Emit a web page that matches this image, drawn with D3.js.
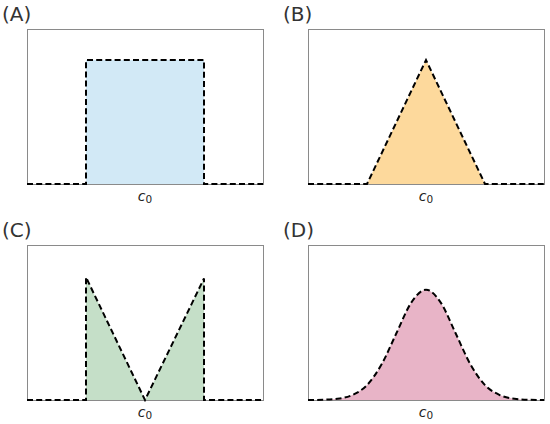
<!DOCTYPE html>
<html>
<head>
<meta charset="utf-8">
<script src="https://cdn.jsdelivr.net/npm/d3@7"></script>
<style>
  body { margin: 0; background: #fff; }
  svg { display: block; }
</style>
</head>
<body>
<div id="chart"></div>
<script>
// four kernel shapes around c0
const panelLabels = ["(A)", "(B)", "(C)", "(D)"];
const panelColors = ["#d2e9f6", "#fdd99c", "#c5dfc8", "#e8b4c7"];

const boxX = [-2, -1, -1, 1, 1, 2];
const boxY = [0, 0, 1, 1, 0, 0];

const triX = [-2, -1, 0, 1, 2];
const triY = [0, 0, 1, 0, 0];

const vX = [-2, -1, -1, 0, 1, 1, 2];
const vY = [0, 0, 0.99, 0, 0.98, 0, 0];

const gaussX = [-2, -1.75, -1.5, -1.25, -1, -0.75, -0.5, -0.25, 0, 0.25, 0.5, 0.75, 1, 1.25, 1.5, 1.75, 2];
const gaussY = [0, 0.002, 0.01, 0.04, 0.12, 0.29, 0.54, 0.785, 0.89, 0.785, 0.54, 0.29, 0.12, 0.04, 0.01, 0.002, 0];

const shapes = [
  { xs: boxX, ys: boxY, curve: d3.curveLinear },
  { xs: triX, ys: triY, curve: d3.curveLinear },
  { xs: vX, ys: vY, curve: d3.curveLinear },
  { xs: gaussX, ys: gaussY, curve: d3.curveMonotoneX },
];

const W = 550, H = 424;
const panelW = 236, panelH = 155;
const origins = [
  { x: 27, y: 29 },
  { x: 308, y: 29 },
  { x: 27, y: 245 },
  { x: 308, y: 245 },
];

const svg = d3.select("#chart").append("svg")
  .attr("width", W)
  .attr("height", H)
  .attr("viewBox", `0 0 ${W} ${H}`);

const x = d3.scaleLinear().domain([-2, 2]).range([0, panelW]);
const y = d3.scaleLinear().domain([0, 1.25]).range([panelH, 0]);

shapes.forEach((shape, i) => {
  const pts = shape.xs.map((v, k) => [v, shape.ys[k]]);
  const g = svg.append("g")
    .attr("transform", `translate(${origins[i].x},${origins[i].y})`);

  // frame
  g.append("rect")
    .attr("x", 0.5)
    .attr("y", 0.5)
    .attr("width", panelW)
    .attr("height", panelH)
    .attr("fill", "none")
    .attr("stroke", "#8a8a8a")
    .attr("stroke-width", 1);

  const area = d3.area()
    .x(d => x(d[0]))
    .y0(y(0))
    .y1(d => y(d[1]))
    .curve(shape.curve);

  const line = d3.line()
    .x(d => x(d[0]))
    .y(d => y(d[1]))
    .curve(shape.curve);

  g.append("path")
    .datum(pts)
    .attr("d", area)
    .attr("fill", panelColors[i]);

  g.append("path")
    .datum(pts)
    .attr("d", line)
    .attr("fill", "none")
    .attr("stroke", "#000")
    .attr("stroke-width", 2)
    .attr("stroke-dasharray", "6,3.2");

  // c0 tick label
  const lab = g.append("text")
    .attr("x", x(0))
    .attr("y", panelH + 17)
    .attr("text-anchor", "middle")
    .attr("font-family", "DejaVu Sans, sans-serif")
    .attr("font-size", 14)
    .attr("fill", "#222");
  lab.append("tspan").attr("font-style", "italic").text("c");
  lab.append("tspan").attr("font-size", 10.5).attr("dy", 2).text("0");

  // panel letter
  svg.append("text")
    .attr("x", origins[i].x - 25)
    .attr("y", origins[i].y - 8)
    .attr("font-family", "DejaVu Sans, sans-serif")
    .attr("font-size", 20)
    .attr("fill", "#333")
    .text(panelLabels[i]);
});
</script>
</body>
</html>
